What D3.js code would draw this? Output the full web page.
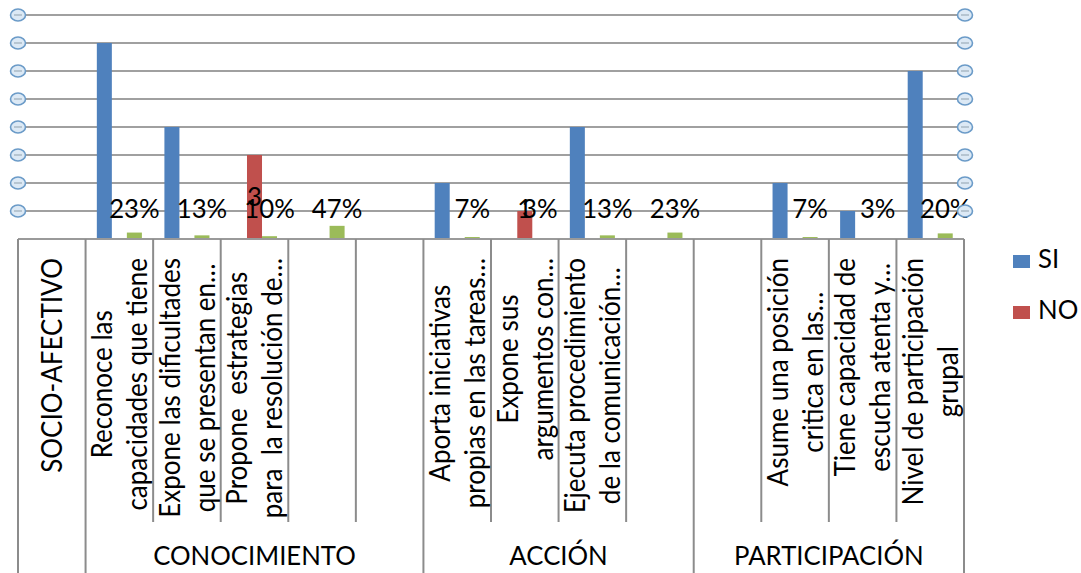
<!DOCTYPE html>
<html>
<head>
<meta charset="utf-8">
<script src="https://d3js.org/d3.v7.min.js"></script>
<style>
  body { margin: 0; background: #fff; }
  text { font-family: Lato, "Open Sans", sans-serif; fill: #000; white-space: pre; }
</style>
</head>
<body>
<script>
// inner category labels (rotated), "\n" marks the wrap
const categories = [
  "",
  "Reconoce las\ncapacidades que tiene",
  "Expone las dificultades\nque se presentan en…",
  "Propone  estrategias\npara  la resolución de…",
  "",
  "",
  "Aporta iniciativas\npropias en las tareas…",
  "Expone sus\nargumentos con…",
  "Ejecuta procedimiento\nde la comunicación…",
  "",
  "",
  "Asume una posición\ncritica en las…",
  "Tiene capacidad de\nescucha atenta y…",
  "Nivel de participación\ngrupal"
];
const groups = ["SOCIO-AFECTIVO", "CONOCIMIENTO", "ACCIÓN", "PARTICIPACIÓN"];
const groupSizes = [1, 5, 4, 4];

const seriesNames = ["SI", "NO"];
const valuesSI = [0, 7, 4, 0, 0, 0, 2, 0, 4, 0, 0, 2, 1, 6];
const valuesNO = [0, 0, 0, 3, 0, 0, 0, 1, 0, 0, 0, 0, 0, 0];
const valuesPct = [null, 23, 13, 10, 47, null, 7, 3, 13, 23, null, 7, 3, 20];
const yTicks = [1, 2, 3, 4, 5, 6, 7, 8];

const colors = { SI: "#4f81bd", NO: "#c0504d", PCT: "#9bbb59" };
const fs = 26;
const sxR = 1.1;   // stretch of rotated labels
const sxH = 0.99;  // stretch of horizontal texts

const svg = d3.select("body").append("svg")
  .attr("width", 1081)
  .attr("height", 573);

const x0 = d3.scaleBand()
  .domain(d3.range(categories.length))
  .range([18, 964]);

const x1 = d3.scaleBand()
  .domain(["SI", "NO", "PCT"])
  .range([0, x0.bandwidth()])
  .paddingOuter(0.75);

const y = d3.scaleLinear()
  .domain([0, 8])
  .range([239, 15]);

// gridlines
svg.append("g").selectAll("line")
  .data(yTicks)
  .join("line")
  .attr("x1", 18).attr("x2", 964)
  .attr("y1", d => y(d)).attr("y2", d => y(d))
  .attr("stroke", "#a0a0a0")
  .attr("stroke-width", 2);

// bars
const rows = categories.map((c, i) => ({ i, SI: valuesSI[i], NO: valuesNO[i], PCT: valuesPct[i] == null ? 0 : valuesPct[i] / 100 }));

const bars = [];
rows.forEach(r => {
  ["SI", "NO", "PCT"].forEach(k => { if (r[k] > 0) bars.push({ i: r.i, key: k, v: r[k] }); });
});

svg.append("g").selectAll("rect")
  .data(bars)
  .join("rect")
  .attr("x", d => x0(d.i) + x1(d.key))
  .attr("width", x1.bandwidth())
  .attr("y", d => y(d.v))
  .attr("height", d => y(0) - y(d.v))
  .attr("fill", d => colors[d.key]);

// baseline + category separators
svg.append("line")
  .attr("x1", 18).attr("x2", 964)
  .attr("y1", y(0)).attr("y2", y(0))
  .attr("stroke", "#9a9a9a").attr("stroke-width", 2);

const boundaries = [0];
groupSizes.forEach(s => boundaries.push(boundaries[boundaries.length - 1] + s));
const edge = i => i < categories.length ? x0(i) : x0.range()[1];

svg.append("g").selectAll("line")
  .data(d3.range(categories.length + 1))
  .join("line")
  .attr("x1", edge)
  .attr("x2", edge)
  .attr("y1", y(0))
  .attr("y2", d => boundaries.includes(d) ? 573 : 522)
  .attr("stroke", "#8c8c8c").attr("stroke-width", 2);

// data labels for NO and percentage series
const labels = bars.filter(d => d.key !== "SI").map(d => ({
  x: x0(d.i) + x1(d.key) + x1.bandwidth() / 2,
  cy: Math.min(y(d.v / 2), y(1) - 2),
  t: d.key === "PCT" ? valuesPct[d.i] + "%" : String(d.v)
}));

svg.append("g").selectAll("text")
  .data(labels)
  .join("text")
  .attr("font-size", fs)
  .attr("text-anchor", "middle")
  .attr("transform", d => `translate(${d.x},${d.cy + 0.36 * fs}) scale(${sxH},1)`)
  .text(d => d.t);

// axis end markers
function marker(cx, cy) {
  svg.append("ellipse")
    .attr("cx", cx).attr("cy", cy).attr("rx", 7.5).attr("ry", 6)
    .attr("fill", "#dce9f5").attr("stroke", "#6b9bc8").attr("stroke-width", 1.6);
  svg.append("line")
    .attr("x1", cx - 4).attr("x2", cx + 4).attr("y1", cy).attr("y2", cy)
    .attr("stroke", "#aab8c4").attr("stroke-width", 1.5);
}
yTicks.forEach(t => { marker(18, y(t)); marker(965, y(t)); });

// rotated labels, block top-aligned, lines centred on each other
const labelTop = 258;
const lineGap = 35 / sxR;
function rotatedLabel(str, cx) {
  const lines = str.split("\n");
  const t = svg.append("text")
    .attr("font-size", fs)
    .attr("text-anchor", "middle");
  lines.forEach((ln, j) => {
    t.append("tspan")
      .attr("x", 0)
      .attr("y", (j - (lines.length - 1) / 2) * lineGap + 0.36 * fs)
      .text(ln);
  });
  const maxLen = d3.max(t.selectAll("tspan").nodes(), n => n.getComputedTextLength());
  t.attr("transform", `translate(${cx},${labelTop + maxLen / 2}) scale(${sxR},1) rotate(-90)`);
}

categories.forEach((c, i) => {
  if (c) rotatedLabel(c, x0(i) + x0.bandwidth() / 2);
});

groups.forEach((g, k) => {
  const left = edge(boundaries[k]);
  const right = edge(boundaries[k + 1]);
  if (groupSizes[k] === 1) {
    rotatedLabel(g, (left + right) / 2);
  } else {
    svg.append("text")
      .attr("font-size", fs)
      .attr("text-anchor", "middle")
      .attr("transform", `translate(${(left + right) / 2},565) scale(${sxH},1)`)
      .text(g);
  }
});

// legend
const legend = svg.append("g").selectAll("g")
  .data(seriesNames)
  .join("g")
  .attr("transform", (d, i) => `translate(1013,${255 + i * 51})`);

legend.append("rect")
  .attr("width", 17).attr("height", 13)
  .attr("fill", d => colors[d]);

legend.append("text")
  .attr("font-size", fs)
  .attr("transform", `translate(25,13) scale(${sxH},1)`)
  .text(d => d);
</script>
</body>
</html>
